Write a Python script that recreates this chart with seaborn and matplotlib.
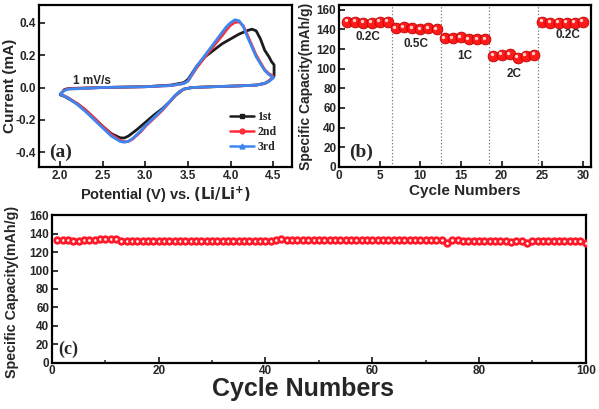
import matplotlib
matplotlib.use("Agg")
import matplotlib.pyplot as plt
import seaborn as sns
import pandas as pd
import numpy as np
from matplotlib.lines import Line2D

sns.set_style("ticks")
plt.rcParams['font.family'] = ['Liberation Sans', 'DejaVu Sans']
plt.rcParams['font.weight'] = 'bold'
plt.rcParams['axes.labelweight'] = 'bold'

# ---------------- data: (a) CV curves ----------------
cv1_v = [2.00, 2.05, 2.10, 2.50, 3.00, 3.30, 3.45, 3.50, 3.55, 3.60, 3.70, 3.80, 3.90, 4.00, 4.10, 4.20,
         4.25, 4.30, 4.35, 4.40, 4.45, 4.48, 4.51, 4.51, 4.45, 4.40, 4.30, 4.10, 3.80, 3.55, 3.45, 3.40,
         3.35, 3.30, 3.20, 3.10, 3.00, 2.90, 2.80, 2.75, 2.70, 2.60, 2.50, 2.40, 2.30, 2.20, 2.10, 2.05, 2.00]
cv1_i = [-0.045, -0.012, -0.006, 0.000, 0.005, 0.015, 0.030, 0.050, 0.090, 0.130, 0.190, 0.230, 0.270, 0.300, 0.330, 0.352,
         0.360, 0.350, 0.300, 0.230, 0.190, 0.160, 0.140, 0.070, 0.040, 0.025, 0.015, 0.010, 0.005, 0.000, -0.010, -0.030,
         -0.050, -0.080, -0.130, -0.170, -0.215, -0.260, -0.300, -0.312, -0.310, -0.285, -0.240, -0.190, -0.140, -0.100, -0.070, -0.055, -0.045]

cv2_v = [2.00, 2.05, 2.10, 2.50, 3.00, 3.30, 3.45, 3.50, 3.55, 3.60, 3.70, 3.80, 3.90, 3.95, 4.00, 4.05, 4.10,
         4.15, 4.20, 4.30, 4.40, 4.45, 4.50, 4.50, 4.45, 4.40, 4.30, 4.10, 3.80, 3.55, 3.45, 3.40,
         3.35, 3.30, 3.20, 3.10, 3.00, 2.95, 2.90, 2.85, 2.80, 2.75, 2.70, 2.60, 2.50, 2.40, 2.30, 2.20, 2.10, 2.05, 2.00]
cv2_i = [-0.040, -0.015, -0.008, 0.000, 0.005, 0.012, 0.025, 0.040, 0.080, 0.120, 0.190, 0.255, 0.320, 0.355, 0.385, 0.402, 0.405,
         0.380, 0.320, 0.200, 0.110, 0.085, 0.070, 0.065, 0.040, 0.025, 0.015, 0.010, 0.005, 0.000, -0.010, -0.025,
         -0.050, -0.080, -0.140, -0.190, -0.240, -0.270, -0.295, -0.318, -0.333, -0.335, -0.325, -0.290, -0.240, -0.190, -0.140, -0.100, -0.065, -0.052, -0.042]

cv3_v = [2.00, 2.05, 2.10, 2.50, 3.00, 3.30, 3.45, 3.50, 3.55, 3.60, 3.70, 3.80, 3.90, 3.95, 4.00, 4.05, 4.10,
         4.15, 4.20, 4.30, 4.40, 4.45, 4.50, 4.50, 4.45, 4.40, 4.30, 4.10, 3.80, 3.55, 3.45, 3.40,
         3.35, 3.30, 3.20, 3.10, 3.00, 2.95, 2.90, 2.85, 2.80, 2.75, 2.70, 2.60, 2.50, 2.40, 2.30, 2.20, 2.10, 2.05, 2.00]
cv3_i = [-0.040, -0.018, -0.010, 0.000, 0.005, 0.012, 0.025, 0.040, 0.085, 0.130, 0.200, 0.270, 0.340, 0.375, 0.400, 0.418, 0.412,
         0.375, 0.310, 0.190, 0.105, 0.080, 0.062, 0.058, 0.038, 0.025, 0.015, 0.010, 0.005, 0.000, -0.010, -0.025,
         -0.048, -0.078, -0.135, -0.185, -0.235, -0.265, -0.290, -0.315, -0.332, -0.338, -0.332, -0.300, -0.250, -0.200, -0.150, -0.105, -0.068, -0.054, -0.042]

cv_labels = ['1st', '2nd', '3rd']

# ---------------- data: (b) rate capability ----------------
rate_cycles = list(range(1, 31))
rate_cap = [148, 148, 147, 147, 148, 148,
            141, 142, 141, 140, 141, 140,
            131, 131, 132, 130, 130, 130,
            113, 114, 115, 111, 113, 114,
            148, 147, 147, 147, 147, 148]
rate_labels = ['0.2C', '0.5C', '1C', '2C', '0.2C']
rate_label_x = [3.5, 9.5, 15.5, 21.5, 28.2]
rate_label_y = [129, 122, 110, 92, 131]
rate_bounds = [6.5, 12.5, 18.5, 24.5]

# ---------------- data: (c) cycling ----------------
cyc_n = list(range(1, 101))
cyc_cap = [133, 133.5, 133, 132, 132.5, 133, 133, 133.5, 134, 134, 134, 134,
           132.5, 132, 132, 132, 132, 132, 132, 132, 132, 132, 132, 132, 132, 132, 132, 132,
           132, 132, 132, 132, 132, 132, 132, 132, 131.5, 132, 131.5, 132, 132,
           133.5, 134, 133.5, 133.5, 133.5, 133, 133, 133, 133, 133.5, 133.5, 133.5, 133.5,
           133.5, 133.5, 133.5, 133.5, 133.5, 133.5, 133, 133, 133, 133.5, 133.5, 133.5, 133.5,
           133.5, 133.5, 133.5, 133.5, 133.5, 133,
           130, 133, 133, 131.5, 132.5, 132.5, 132.5, 132.5, 132.5, 132.5, 132, 132,
           130.5, 132, 132, 129.5, 131.5, 131.5, 131.5, 132, 132, 131.5, 131.5, 131.5, 131.5, 131.5, 130]

# ---------------- figure ----------------
fig = plt.figure(figsize=(5.99, 4.09), dpi=100)
ax_a = fig.add_axes([0.065, 0.592, 0.4224, 0.396])
ax_b = fig.add_axes([0.566, 0.592, 0.4207, 0.396])
ax_c = fig.add_axes([0.0868, 0.1132, 0.891, 0.3606])

tickfont = dict(fontsize=8.5, fontweight='bold')
serif = ['Liberation Serif', 'DejaVu Serif']

# (a)
colors = ['#1c1c1c', '#ff2d3a', '#3d86f0']
markers = ['s', 'o', '^']
for v, i, c in zip([cv1_v, cv2_v, cv3_v], [cv1_i, cv2_i, cv3_i], colors):
    sns.lineplot(x=v, y=i, sort=False, estimator=None, color=c, linewidth=2.0, ax=ax_a)
ax_a.set_xlim(1.75, 4.72)
ax_a.set_ylim(-0.49, 0.51)
ax_a.set_xticks([2.0, 2.5, 3.0, 3.5, 4.0, 4.5])
ax_a.set_yticks([-0.4, -0.2, 0.0, 0.2, 0.4])
ax_a.set_xticklabels(['2.0', '2.5', '3.0', '3.5', '4.0', '4.5'], **tickfont)
ax_a.set_yticklabels(['-0.4', '-0.2', '0.0', '0.2', '0.4'], **tickfont)
ax_a.set_xlabel(r'Potential (V) vs. $\left(\mathbf{Li/Li^{+}}\right)$', fontsize=10.5, fontweight='bold', labelpad=2)
ax_a.set_ylabel('Current (mA)', fontsize=11, fontweight='bold')
ax_a.yaxis.set_label_coords(-0.088, 0.5)
ax_a.text(2.15, 0.02, '1 mV/s', fontsize=8.5, fontweight='bold')
ax_a.text(0.04, 0.06, '(a)', transform=ax_a.transAxes, fontsize=14, fontweight='bold', family=serif)
handles = [Line2D([], [], color=c, marker=m, markersize=3.5, linewidth=1.8) for c, m in zip(colors, markers)]
ax_a.legend(handles, cv_labels, loc='lower right', frameon=False, handlelength=2.0,
            handletextpad=0.3, labelspacing=0.25, bbox_to_anchor=(0.98, 0.02),
            prop={'family': serif, 'weight': 'bold', 'size': 8.5})

# (b)
df_rate = pd.DataFrame({'cycle': rate_cycles, 'cap': rate_cap})
for xb in rate_bounds:
    ax_b.axvline(xb, color='#777777', linestyle=':', linewidth=0.9, zorder=0)
sns.scatterplot(data=df_rate, x='cycle', y='cap', ax=ax_b, s=60, color='#ff1a1a',
                edgecolor='#c00000', linewidth=0.6, zorder=3)
sns.scatterplot(x=np.array(rate_cycles) - 0.2, y=np.array(rate_cap) + 1.5, ax=ax_b, s=6,
                color='#ffd0d0', linewidth=0, zorder=4)
for t, x, y in zip(rate_labels, rate_label_x, rate_label_y):
    ax_b.text(x, y, t, ha='center', fontsize=8.5, fontweight='bold')
ax_b.set_xlim(0, 31)
ax_b.set_ylim(0, 165)
ax_b.set_xticks([0, 5, 10, 15, 20, 25, 30])
ax_b.set_yticks(list(range(0, 161, 20)))
ax_b.set_xticklabels([str(v) for v in [0, 5, 10, 15, 20, 25, 30]], **tickfont)
ax_b.set_yticklabels([str(v) for v in range(0, 161, 20)], **tickfont)
ax_b.set_xlabel('Cycle Numbers', fontsize=11, fontweight='bold', labelpad=2)
ax_b.set_ylabel('Specific Capacity(mAh/g)', fontsize=10, fontweight='bold')
ax_b.yaxis.set_label_coords(-0.103, 0.5)
ax_b.text(0.04, 0.06, '(b)', transform=ax_b.transAxes, fontsize=14, fontweight='bold', family=serif)

# (c)
df_cyc = pd.DataFrame({'cycle': cyc_n, 'cap': cyc_cap})
sns.scatterplot(data=df_cyc, x='cycle', y='cap', ax=ax_c, s=16, facecolor='white',
                edgecolor='#ff1a2a', linewidth=2.0, zorder=3)
ax_c.set_xlim(0, 100)
ax_c.set_ylim(0, 160)
ax_c.set_xticks(list(range(0, 101, 20)))
ax_c.set_xticks(list(range(10, 100, 20)), minor=True)
ax_c.set_yticks(list(range(0, 161, 20)))
ax_c.set_xticklabels([str(v) for v in range(0, 101, 20)], **tickfont)
ax_c.set_yticklabels([str(v) for v in range(0, 161, 20)], **tickfont)
ax_c.set_xlabel('Cycle Numbers', fontsize=18, fontweight='bold', labelpad=0)
ax_c.xaxis.set_label_coords(0.47, -0.1)
ax_c.set_ylabel('Specific Capacity(mAh/g)', fontsize=10.3, fontweight='bold')
ax_c.yaxis.set_label_coords(-0.062, 0.48)
ax_c.text(0.012, 0.06, '(c)', transform=ax_c.transAxes, fontsize=13, fontweight='bold', family=serif)

for ax in (ax_a, ax_b, ax_c):
    for sp in ax.spines.values():
        sp.set_visible(True)
        sp.set_linewidth(1.6)
        sp.set_color('black')
    ax.tick_params(direction='in', length=4, width=1.3, pad=2, which='major')
    ax.tick_params(direction='in', length=2.5, width=1.1, which='minor')
    ax.grid(False)

fig.savefig('out.png', dpi=100)
